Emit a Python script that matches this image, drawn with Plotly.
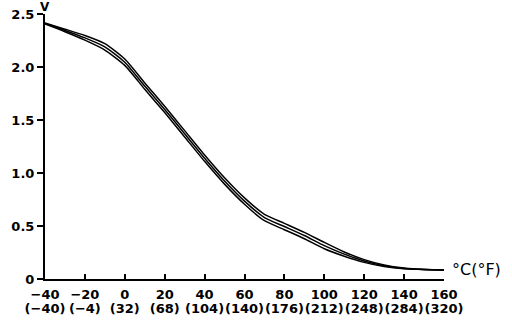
import plotly.graph_objects as go

temps = [-40, -30, -20, -10, 0, 10, 20, 30, 40, 50, 60, 70, 80, 90, 100, 110, 120, 130, 140, 150, 160]
upper = [2.415, 2.357, 2.297, 2.22, 2.075, 1.85, 1.63, 1.40, 1.17, 0.955, 0.765, 0.61, 0.525, 0.44, 0.345, 0.255, 0.183, 0.133, 0.104, 0.09, 0.085]
middle = [2.41, 2.345, 2.275, 2.19, 2.045, 1.82, 1.60, 1.37, 1.14, 0.925, 0.735, 0.58, 0.495, 0.41, 0.315, 0.235, 0.17, 0.125, 0.10, 0.09, 0.085]
lower = [2.405, 2.333, 2.253, 2.16, 2.015, 1.79, 1.57, 1.34, 1.11, 0.895, 0.705, 0.55, 0.465, 0.38, 0.285, 0.215, 0.157, 0.117, 0.096, 0.09, 0.085]

x_ticks = [-40, -20, 0, 20, 40, 60, 80, 100, 120, 140, 160]
c_labels = ["\u221240", "\u221220", "0", "20", "40", "60", "80", "100", "120", "140", "160"]
f_labels = ["(\u221240)", "(\u22124)", "(32)", "(68)", "(104)", "(140)", "(176)", "(212)", "(248)", "(284)", "(320)"]
y_ticks = [0, 0.5, 1.0, 1.5, 2.0, 2.5]
y_labels = ["0", "0.5", "1.0", "1.5", "2.0", "2.5"]

FONT = "DejaVu Sans, Verdana, sans-serif"
bold13 = dict(family=FONT, size=13, color="black", weight="bold")

fig = go.Figure()
for i, s in enumerate((upper, middle, lower)):
    fig.add_trace(go.Scatter(x=temps, y=s, mode="lines",
                             xaxis="x2" if i == 2 else "x",
                             line=dict(color="black", width=1.5, shape="spline", smoothing=0.6),
                             showlegend=False, hoverinfo="skip"))

fig.update_layout(
    width=512, height=330,
    margin=dict(l=45, r=68, t=14, b=51),
    paper_bgcolor="white", plot_bgcolor="white",
    font=dict(family=FONT, size=13, color="black"),
    xaxis=dict(range=[-40, 160], tickvals=x_ticks, ticktext=["<b>%s</b>" % t for t in c_labels],
               ticks="inside", ticklen=5, tickwidth=1.5, tickcolor="black",
               showline=True, linecolor="black", linewidth=2,
               showgrid=False, zeroline=False, ticklabelstandoff=2,
               tickangle=0, automargin=False, tickfont=bold13),
    xaxis2=dict(range=[-40, 160], overlaying="x", anchor="y", side="bottom",
                tickvals=x_ticks, ticktext=["<b>%s</b>" % t for t in f_labels],
                ticks="", showline=False, showgrid=False, zeroline=False,
                ticklabelstandoff=20, tickangle=0, automargin=False, tickfont=bold13),
    yaxis=dict(range=[0, 2.5], tickvals=y_ticks, ticktext=["<b>%s</b>" % t for t in y_labels],
               ticks="outside", ticklen=6, tickwidth=1.5, tickcolor="black",
               showline=True, linecolor="black", linewidth=2,
               showgrid=False, zeroline=False, automargin=False,
               tickfont=bold13),
    annotations=[
        dict(text="<b>V</b>", xref="paper", yref="paper", x=0, y=1, xanchor="center", yanchor="middle",
             showarrow=False, yshift=7, xshift=0,
             font=dict(family=FONT, size=12, color="black")),
        dict(text="\u00b0C(\u00b0F)", xref="paper", yref="paper", x=1, y=0, xanchor="left", yanchor="middle",
             showarrow=False, xshift=6, yshift=10,
             font=dict(family=FONT, size=16, color="black")),
    ],
)

fig.write_html("out.html")
